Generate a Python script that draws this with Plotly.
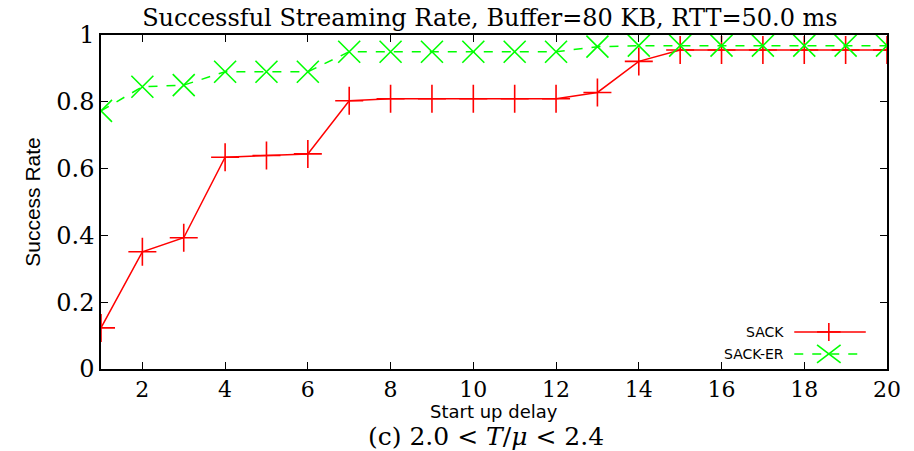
import plotly.graph_objects as go

# Start-up delay values and measured success rates
delay = list(range(1, 21))
sack = [0.123, 0.351, 0.393, 0.634, 0.639, 0.644, 0.803, 0.809, 0.809, 0.809,
        0.809, 0.809, 0.828, 0.921, 0.955, 0.955, 0.955, 0.955, 0.955, 0.955]
sack_er = [0.773, 0.845, 0.850, 0.890, 0.890, 0.890, 0.950, 0.950, 0.950, 0.950,
           0.950, 0.950, 0.965, 0.968, 0.968, 0.968, 0.968, 0.968, 0.968, 0.968]

x_ticks = [2, 4, 6, 8, 10, 12, 14, 16, 18, 20]
y_ticks = [0, 0.2, 0.4, 0.6, 0.8, 1]
y_tick_text = ["0", "0.2", "0.4", "0.6", "0.8", "1"]

RED = "#ff0000"
GREEN = "#00ff00"
SERIF = "DejaVu Serif"
SANS = "Liberation Sans"

fig = go.Figure()
fig.add_trace(go.Scatter(
    x=delay, y=sack, mode="lines+markers", name="SACK",
    line=dict(color=RED, width=1.5),
    marker=dict(symbol="cross-thin", size=20, line=dict(color=RED, width=1.6)),
))
fig.add_trace(go.Scatter(
    x=delay, y=sack_er, mode="lines+markers", name="SACK-ER",
    line=dict(color=GREEN, width=1.5, dash="dash"),
    marker=dict(symbol="x-thin", size=22, line=dict(color=GREEN, width=1.6)),
))

axis_common = dict(
    showline=True, linecolor="black", linewidth=1.5, mirror="ticks",
    ticks="inside", ticklen=7, tickwidth=1, tickcolor="black",
    showgrid=False, zeroline=False,
)

fig.update_layout(
    width=914, height=451,
    margin=dict(l=101, r=27, t=35, b=82),
    paper_bgcolor="white", plot_bgcolor="white",
    showlegend=False,
    title=dict(text="Successful Streaming Rate, Buffer=80 KB, RTT=50.0 ms",
               x=0.536, xanchor="center", y=0.962, yanchor="middle",
               font=dict(family=SERIF, size=24, color="black")),
    xaxis=dict(range=[1, 20], tickvals=x_ticks,
               tickfont=dict(family=SERIF, size=22, color="black"), **axis_common),
    yaxis=dict(range=[0, 1], tickvals=y_ticks, ticktext=y_tick_text,
               tickfont=dict(family=SERIF, size=24, color="black"), **axis_common),
)
fig.update_yaxes(title=dict(text="Success Rate", standoff=10,
                            font=dict(family=SANS, size=21, color="black")))

# Axis title for x and the sub-figure caption beneath it
fig.add_annotation(text="Start up delay", xref="paper", yref="paper",
                   x=0.5, y=-0.126, xanchor="center", yanchor="middle",
                   showarrow=False, font=dict(family="DejaVu Sans", size=18, color="black"))
fig.add_annotation(text="(c) 2.0 &lt; <i>T</i>/<i>μ</i> &lt; 2.4",
                   xref="paper", yref="paper", x=0.49, y=-0.202,
                   xanchor="center", yanchor="middle", showarrow=False,
                   font=dict(family=SERIF, size=25, color="black"))

# Key in the lower-right corner: label on the left, line sample with marker on the right
legend_rows = [("SACK", RED, "solid", "plus", 0.111),
               ("SACK-ER", GREEN, "dash", "cross", 0.045)]
x0, x1, xm = 0.882, 0.973, 0.926
hx, hy = 0.0150, 0.027
for label, color, dash, sym, yy in legend_rows:
    fig.add_annotation(text=label, xref="paper", yref="paper", x=0.872, y=yy,
                       xanchor="right", yanchor="middle", showarrow=False,
                       font=dict(family="DejaVu Sans", size=14, color="black"))
    fig.add_shape(type="line", xref="paper", yref="paper", x0=x0, x1=x1, y0=yy, y1=yy,
                  line=dict(color=color, width=1.5, dash=dash))
    if sym == "plus":
        segs = [(xm - hx, yy, xm + hx, yy), (xm, yy - hy, xm, yy + hy)]
    else:
        segs = [(xm - hx, yy - hy, xm + hx, yy + hy), (xm - hx, yy + hy, xm + hx, yy - hy)]
    for a, b, c, d in segs:
        fig.add_shape(type="line", xref="paper", yref="paper", x0=a, y0=b, x1=c, y1=d,
                      line=dict(color=color, width=1.6))

fig.write_html("out.html")
